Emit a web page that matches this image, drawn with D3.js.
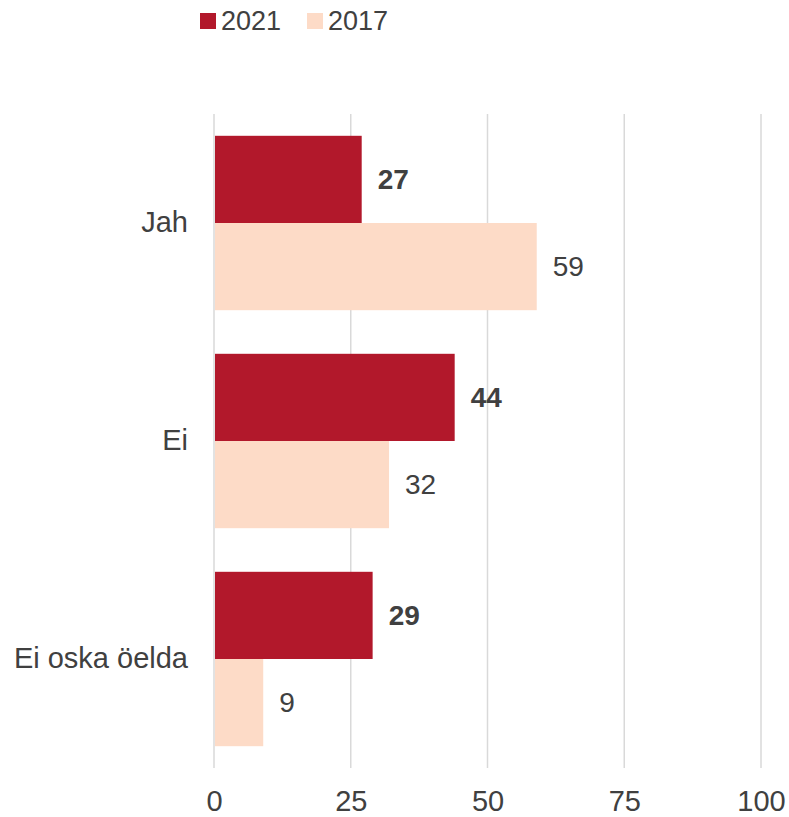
<!DOCTYPE html>
<html>
<head>
<meta charset="utf-8">
<script src="https://cdn.jsdelivr.net/npm/d3@7"></script>
<style>
  body { margin: 0; background: #fff; }
  text { font-family: "Liberation Sans", Arial, sans-serif; fill: #404040; }
</style>
</head>
<body>
<svg width="789" height="817"></svg>
<script>
// ~~~~~~ DATA ~~~~~~
var categories = ["Jah", "Ei", "Ei oska öelda"];
var series = ["2021", "2017"];
var values2021 = [27, 44, 29];
var values2017 = [59, 32, 9];
var ticks = [0, 25, 50, 75, 100];

var colors = {"2021": "#b2182b", "2017": "#fddbc7"};

// ~~~~~~ SVG ~~~~~~
var svg = d3.select("svg"),
    margin = {top: 114, right: 28, bottom: 49, left: 214},
    width = +svg.attr("width") - margin.left - margin.right,
    height = +svg.attr("height") - margin.top - margin.bottom;

var g = svg.append("g")
    .attr("transform", "translate(" + margin.left + "," + margin.top + ")");

// ~~~~~~ SCALES ~~~~~~
var x = d3.scaleLinear().domain([0, 100]).range([0, 547]);
var y = d3.scaleBand().domain(categories).range([0, height])
    .paddingInner(0.2).paddingOuter(0.1);
var ySub = d3.scaleBand().domain(series).range([0, y.bandwidth()]);

// gridlines
g.selectAll(".grid")
  .data(ticks)
  .enter()
  .append("line")
  .attr("class", "grid")
  .attr("x1", function(d) { return x(d); })
  .attr("x2", function(d) { return x(d); })
  .attr("y1", 0)
  .attr("y2", height)
  .attr("stroke", "#d9d9d9")
  .attr("stroke-width", 1.5);

// tick labels
var xAxis = g.append("g")
  .attr("transform", "translate(0," + height + ")")
  .call(d3.axisBottom(x).tickValues(ticks).tickSize(0).tickPadding(22));
xAxis.select(".domain").remove();
xAxis.selectAll("text")
  .style("font-size", "29px")
  .attr("fill", "#404040");

// category labels
var yAxis = g.append("g")
  .call(d3.axisLeft(y).tickSize(0).tickPadding(26));
yAxis.select(".domain").remove();
yAxis.selectAll("text")
  .style("font-size", "29px")
  .attr("fill", "#404040");

// bars
var rows = categories.map(function(c, i) {
  return [
    {cat: c, key: "2021", value: values2021[i]},
    {cat: c, key: "2017", value: values2017[i]}
  ];
});

var groups = g.selectAll(".grp")
  .data(rows)
  .enter()
  .append("g")
  .attr("class", "grp")
  .attr("transform", function(d) { return "translate(0," + y(d[0].cat) + ")"; });

groups.selectAll("rect")
  .data(function(d) { return d; })
  .enter()
  .append("rect")
  .attr("x", x(0) + 1)
  .attr("y", function(d) { return ySub(d.key); })
  .attr("width", function(d) { return x(d.value) - x(0) - 1; })
  .attr("height", ySub.bandwidth())
  .attr("fill", function(d) { return colors[d.key]; });

groups.selectAll(".val")
  .data(function(d) { return d; })
  .enter()
  .append("text")
  .attr("class", "val")
  .attr("x", function(d) { return x(d.value) + 16; })
  .attr("y", function(d) { return ySub(d.key) + ySub.bandwidth() / 2; })
  .attr("dy", "0.35em")
  .style("font-size", "28px")
  .style("font-weight", function(d) { return d.key === "2021" ? "bold" : "normal"; })
  .text(function(d) { return d.value; });

// legend
var legendPos = [200, 307];
var legend = svg.selectAll(".legend")
  .data(series)
  .enter()
  .append("g")
  .attr("class", "legend")
  .attr("transform", function(d, i) { return "translate(" + legendPos[i] + ",13)"; });

legend.append("rect")
  .attr("width", 16)
  .attr("height", 16)
  .attr("fill", function(d) { return colors[d]; });

legend.append("text")
  .attr("x", 21)
  .attr("y", 8)
  .attr("dy", "0.35em")
  .style("font-size", "27px")
  .text(function(d) { return d; });
</script>
</body>
</html>
